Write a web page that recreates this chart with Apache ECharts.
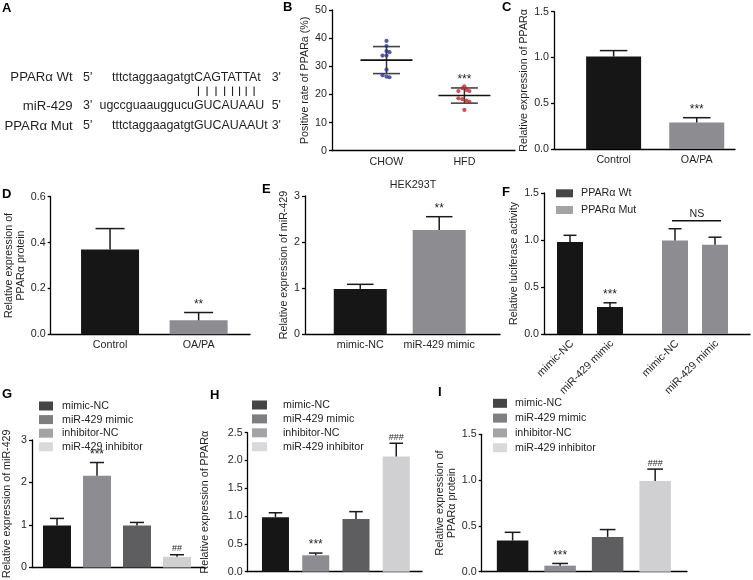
<!DOCTYPE html>
<html><head><meta charset="utf-8">
<script src="https://cdn.jsdelivr.net/npm/echarts@6/dist/echarts.min.js"></script>
<style>html,body{margin:0;padding:0;background:#fff}#c{width:753px;height:580px}</style>
</head><body><div id="c"></div>
<script>
// ================= DATA =================
// Panel A: sequence alignment
const aRowLabels = ['PPARα Wt', 'miR-429', 'PPARα Mut'];
const aRowStarts = ["5'", "3'", "5'"];
const aRowLower  = ['tttctaggaagatgt', 'ugccguaauggucu', 'tttctaggaagatgt'];
const aRowUpper  = ['CAGTATTAt', 'GUCAUAAU', 'GUCAUAAUt'];
const aRowEnds   = ["3'", "5'", "3'"];
const aPairedBases = 8;

// Panel B: scatter (mean ± SD)
const bCategories = ['CHOW', 'HFD'];
const bChow = [39.0, 37.2, 35.4, 35.0, 33.8, 33.8, 28.8, 26.8, 26.3, 26.1];
const bHfd  = [22.9, 22.2, 21.6, 21.2, 21.2, 18.6, 18.3, 17.8, 17.4, 14.5];
const bMean = [32.2, 19.6];
const bSD   = [4.8, 2.7];
const bSig  = ['', '***'];
const bTicks = [0, 10, 20, 30, 40, 50];

// Panel C
const cCategories = ['Control', 'OA/PA'];
const cValues = [1.01, 0.29];
const cErrors = [0.065, 0.052];
const cSig = ['', '***'];
const cTicks = [0, 0.5, 1.0, 1.5];

// Panel D
const dCategories = ['Control', 'OA/PA'];
const dValues = [0.37, 0.061];
const dErrors = [0.091, 0.034];
const dSig = ['', '**'];
const dTicks = [0, 0.2, 0.4, 0.6];

// Panel E
const eCategories = ['mimic-NC', 'miR-429 mimic'];
const eValues = [0.98, 2.26];
const eErrors = [0.10, 0.29];
const eSig = ['', '**'];
const eTicks = [0, 1, 2, 3];
const eTitle = 'HEK293T';

// Panel F
const fGroups = ['PPARα Wt', 'PPARα Mut'];
const fCategories = ['mimic-NC', 'miR-429 mimic'];
const fWt = [0.98, 0.287];
const fWtErr = [0.07, 0.045];
const fMut = [0.995, 0.95];
const fMutErr = [0.125, 0.08];
const fWtSig = ['', '***'];
const fMutSig = ['', ''];
const fNS = 'NS';
const fNSLevel = 1.205;
const fTicks = [0, 0.5, 1.0, 1.5];

// Panels G, H, I
const ghiNames = ['mimic-NC', 'miR-429 mimic', 'inhibitor-NC', 'miR-429 inhibitor'];
const gValues = [0.99, 2.16, 0.99, 0.25];
const gErrors = [0.165, 0.31, 0.07, 0.05];
const gSig = ['', '***', '', '##'];
const gTicks = [0, 1, 2, 3];
const hValues = [0.98, 0.295, 0.95, 2.07];
const hErrors = [0.08, 0.04, 0.13, 0.24];
const hSig = ['', '***', '', '###'];
const hTicks = [0, 0.5, 1.0, 1.5, 2.0, 2.5];
const iValues = [0.34, 0.066, 0.38, 0.99];
const iErrors = [0.09, 0.024, 0.08, 0.13];
const iSig = ['', '***', '', '###'];
const iTicks = [0, 0.5, 1.0, 1.5];

// ================= STYLE / LAYOUT =================
const FONT = "'Liberation Sans', Arial, Helvetica, sans-serif";
const INK = '#231f20';
const FS = 10.7;
const BLACK = '#161616', GRAY = '#8d8d91', DARK = '#5e5e61', LIGHT = '#d0d0d2';
const ghiLegendColors = [BLACK, DARK, GRAY, LIGHT];
const ghiBarColors = [BLACK, GRAY, DARK, LIGHT];
const bJitterChow = [0, 0, 0, 3, -4, 0, 0, -4, 0, 3];
const bJitterHfd = [0, -2, 2, -6, 5, -6, -2, 2, 5, 0];
const fGroupStep = 2.625;

const grids = [], xAxes = [], yAxes = [], series = [];

function addAxes(L) {
  const k = grids.length;
  grids.push({left: L.left, top: L.top, width: L.width, height: L.height});
  xAxes.push({type: 'value', gridIndex: k, min: L.xmin, max: L.xmax,
    axisLine: {show: true, onZero: false, lineStyle: {color: '#000', width: 1.3}},
    axisTick: {show: false}, axisLabel: {show: false}, splitLine: {show: false}});
  const t = L.ticks;
  yAxes.push({type: 'value', gridIndex: k, min: t[0], max: t[t.length - 1], interval: t[1] - t[0],
    name: L.yName, nameLocation: 'middle', nameGap: L.nameGap, nameRotate: 90,
    nameTextStyle: {fontFamily: FONT, fontSize: FS, color: INK, lineHeight: 12},
    axisLine: {show: true, onZero: false, lineStyle: {color: '#000', width: 1.3}},
    axisTick: {show: true, length: 3, lineStyle: {color: '#000', width: 1.3}},
    axisLabel: {margin: 5, fontFamily: FONT, fontSize: FS, color: INK,
      formatter: v => v.toFixed(L.dec)},
    splitLine: {show: false}});
  return k;
}

function errRenderer(sigs, capW, sigSize) {
  return function (params, api) {
    const x = api.value(0), v = api.value(1), t = api.value(2);
    const p0 = api.coord([x, v]), p1 = api.coord([x, t]);
    const st = {stroke: '#1a1a1a', lineWidth: 1.5};
    const ch = [
      {type: 'line', shape: {x1: p0[0], y1: p0[1], x2: p1[0], y2: p1[1]}, style: st},
      {type: 'line', shape: {x1: p1[0] - capW / 2, y1: p1[1], x2: p1[0] + capW / 2, y2: p1[1]}, style: st}
    ];
    const s = sigs[params.dataIndex];
    if (s) {
      const isHash = s.indexOf('#') >= 0;
      ch.push({type: 'text', x: p1[0], y: p1[1] - (isHash ? 1.5 : 2),
        style: {text: s, align: 'center', verticalAlign: 'bottom',
          fontFamily: FONT, fontSize: isHash ? 9 : sigSize, fill: INK}});
    }
    return {type: 'group', children: ch};
  };
}

function labelSeries(k, pos, cats, rotate) {
  series.push({type: 'custom', xAxisIndex: k, yAxisIndex: k, silent: true, z: 5,
    encode: {x: 0, y: 1}, data: pos.map(p => [p, 0]),
    renderItem: function (params, api) {
      const p = api.coord([api.value(0), 0]);
      const txt = cats[params.dataIndex];
      if (rotate) {
        return {type: 'text', x: p[0] + 2, y: p[1] + 8, rotation: Math.PI / 4,
          style: {text: txt, align: 'right', verticalAlign: 'middle', fontFamily: FONT, fontSize: FS, fill: INK}};
      }
      return {type: 'text', x: p[0], y: p[1] + 5.5,
        style: {text: txt, align: 'center', verticalAlign: 'top', fontFamily: FONT, fontSize: FS, fill: INK}};
    }});
}

function barPanel(L, cats, values, errors, sigs, colors, labels, rotate) {
  const k = addAxes(L);
  const pos = L.positions || values.map((_, i) => i);
  series.push({type: 'bar', xAxisIndex: k, yAxisIndex: k, barWidth: L.barWidth, silent: true,
    data: values.map((v, i) => ({value: [pos[i], v], itemStyle: {color: colors[i]}}))});
  series.push({type: 'custom', xAxisIndex: k, yAxisIndex: k, silent: true, z: 4,
    encode: {x: 0, y: 1}, data: values.map((v, i) => [pos[i], v, v + errors[i]]),
    renderItem: errRenderer(sigs, L.barWidth / 2, 12)});
  if (labels) labelSeries(k, pos, labels, rotate);
  return k;
}

// ---- Panel B ----
(function () {
  const L = {left: 332, top: 10, width: 183, height: 140.7, xmin: -0.70, xmax: 1.65,
    ticks: bTicks, dec: 0, yName: 'Positive rate of PPARa (%)', nameGap: 18};
  const k = addAxes(L);
  const pos = bCategories.map((_, i) => i);
  series.push({type: 'custom', xAxisIndex: k, yAxisIndex: k, silent: true, z: 2,
    encode: {x: 0, y: 1}, data: bMean.map((m, i) => [pos[i], m, bSD[i]]),
    renderItem: function (params, api) {
      const x = api.value(0), m = api.value(1), s = api.value(2);
      const pm = api.coord([x, m]), pt = api.coord([x, m + s]), pb = api.coord([x, m - s]);
      const ch = [
        {type: 'line', shape: {x1: pt[0], y1: pt[1], x2: pb[0], y2: pb[1]}, style: {stroke: '#333', lineWidth: 1.5}},
        {type: 'line', shape: {x1: pt[0] - 13.5, y1: pt[1], x2: pt[0] + 13.5, y2: pt[1]}, style: {stroke: '#444', lineWidth: 1.6}},
        {type: 'line', shape: {x1: pb[0] - 13.5, y1: pb[1], x2: pb[0] + 13.5, y2: pb[1]}, style: {stroke: '#444', lineWidth: 1.6}},
        {type: 'line', shape: {x1: pm[0] - 26, y1: pm[1], x2: pm[0] + 26, y2: pm[1]}, style: {stroke: '#111', lineWidth: 1.6}}
      ];
      const sg = bSig[params.dataIndex];
      if (sg) ch.push({type: 'text', x: pt[0], y: pt[1] - 2,
        style: {text: sg, align: 'center', verticalAlign: 'bottom', fontFamily: FONT, fontSize: 12, fill: INK}});
      return {type: 'group', children: ch};
    }});
  series.push({type: 'scatter', xAxisIndex: k, yAxisIndex: k, silent: true, z: 3,
    symbol: 'circle', symbolSize: 4.2, itemStyle: {color: '#2e3192'},
    data: bChow.map((v, i) => ({value: [pos[0], v], symbolOffset: [bJitterChow[i], 0]}))});
  series.push({type: 'scatter', xAxisIndex: k, yAxisIndex: k, silent: true, z: 3,
    symbol: 'circle', symbolSize: 4.2, itemStyle: {color: '#c1272d'},
    data: bHfd.map((v, i) => ({value: [pos[1], v], symbolOffset: [bJitterHfd[i], 0]}))});
  labelSeries(k, pos, bCategories, false);
})();

// ---- Panel C ----
barPanel({left: 554, top: 11.7, width: 181, height: 137.3, xmin: -0.717, xmax: 1.46,
  ticks: cTicks, dec: 1, yName: 'Relative expression of PPARα', nameGap: 14.7, barWidth: 55},
  cCategories, cValues, cErrors, cSig, [BLACK, GRAY], cCategories, false);

// ---- Panel D ----
barPanel({left: 50.7, top: 196.7, width: 199.3, height: 137.6, xmin: -0.67, xmax: 1.58,
  ticks: dTicks, dec: 1, yName: 'Relative expression of\nPPARα protein', nameGap: 23, barWidth: 58},
  dCategories, dValues, dErrors, dSig, [BLACK, GRAY], dCategories, false);

// ---- Panel E ----
barPanel({left: 305, top: 196, width: 195, height: 138, xmin: -0.70, xmax: 1.77,
  ticks: eTicks, dec: 0, yName: 'Relative expression of miR-429', nameGap: 12.3, barWidth: 53},
  eCategories, eValues, eErrors, eSig, [BLACK, GRAY], eCategories, false);

// ---- Panel F ----
(function () {
  const pos = [], vals = [], errs = [], sigs = [], cols = [], labs = [];
  const gv = [fWt, fMut], ge = [fWtErr, fMutErr], gs = [fWtSig, fMutSig], gc = [BLACK, GRAY];
  fGroups.forEach((g, gi) => fCategories.forEach((c, ci) => {
    pos.push(gi * fGroupStep + ci); vals.push(gv[gi][ci]); errs.push(ge[gi][ci]);
    sigs.push(gs[gi][ci]); cols.push(gc[gi]); labs.push(c);
  }));
  const k = barPanel({left: 544, top: 193, width: 206, height: 141, xmin: -0.65, xmax: 4.5,
    ticks: fTicks, dec: 1, yName: 'Relative luciferase activity', nameGap: 23, barWidth: 26, positions: pos},
    labs, vals, errs, sigs, cols, labs, true);
  series.push({type: 'custom', xAxisIndex: k, yAxisIndex: k, silent: true, encode: {x: 0, y: 2},
    data: [[pos[2], pos[3], fNSLevel]],
    renderItem: function (params, api) {
      const a = api.coord([api.value(0), api.value(2)]), b = api.coord([api.value(1), api.value(2)]);
      return {type: 'group', children: [
        {type: 'line', shape: {x1: a[0] - 3, y1: a[1], x2: b[0] + 6, y2: b[1]}, style: {stroke: '#111', lineWidth: 1.4}},
        {type: 'text', x: (a[0] + b[0]) / 2 + 2, y: a[1] - 1.5,
          style: {text: fNS, align: 'center', verticalAlign: 'bottom', fontFamily: FONT, fontSize: FS, fill: INK}}
      ]};
    }});
  fGroups.forEach((g, gi) => series.push({type: 'scatter', name: g, data: [], itemStyle: {color: gc[gi]}}));
})();

// ---- Panels G, H, I ----
barPanel({left: 32, top: 440, width: 173, height: 131.7, xmin: -0.625, xmax: 3.7,
  ticks: gTicks, dec: 0, yName: 'Relative expression of miR-429', nameGap: 19, barWidth: 28},
  ghiNames, gValues, gErrors, gSig, ghiBarColors, null, false);
barPanel({left: 247.7, top: 432.7, width: 174.3, height: 139, xmin: -0.69, xmax: 3.64,
  ticks: hTicks, dec: 1, yName: 'Relative expression of PPARα', nameGap: 36.7, barWidth: 27},
  ghiNames, hValues, hErrors, hSig, ghiBarColors, null, false);
barPanel({left: 481.7, top: 434.3, width: 205.3, height: 137.4, xmin: -0.65, xmax: 3.67,
  ticks: iTicks, dec: 1, yName: 'Relative expression of\nPPARα protein', nameGap: 24, barWidth: 31.5},
  ghiNames, iValues, iErrors, iSig, ghiBarColors, null, false);
ghiNames.forEach((n, i) => series.push({type: 'scatter', name: n, data: [], itemStyle: {color: ghiLegendColors[i]}}));

function legendAt(names, left, top, iw, ih, gap, tpad) {
  return {data: names, left: left, top: top, orient: 'vertical', icon: 'rect', padding: 0,
    itemWidth: iw, itemHeight: ih, itemGap: gap, selectedMode: false,
    textStyle: {fontFamily: FONT, fontSize: FS, color: INK, lineHeight: 12, padding: [0, 0, 0, tpad]}};
}

// ---- graphics: panel A text, panel letters, titles ----
const graphics = [];
const aRowY = [77.7, 106, 126];
const A_LABEL_FS = 13.2, A_SEQ_FS = 12.4;
const aSeqStart = 112;
const measure = (function () {
  const ctx = document.createElement('canvas').getContext('2d');
  return function (txt, fs) { ctx.font = fs + 'px ' + FONT; return ctx.measureText(txt).width; };
})();
const aSplitX = aSeqStart + measure(aRowLower[0], A_SEQ_FS);
let aEndX = 0;
aRowUpper.forEach(u => { aEndX = Math.max(aEndX, aSplitX + measure(u, A_SEQ_FS)); });
aEndX += 4;
aRowY.forEach((y, r) => {
  const lab = {fontFamily: FONT, fontSize: A_LABEL_FS, fill: INK, verticalAlign: 'middle'};
  const seq = {fontFamily: FONT, fontSize: A_SEQ_FS, fill: INK, verticalAlign: 'middle'};
  graphics.push({type: 'text', x: 72.7, y: y, style: Object.assign({text: aRowLabels[r], align: 'right'}, lab)});
  graphics.push({type: 'text', x: 83, y: y, style: Object.assign({text: aRowStarts[r], align: 'left'}, seq)});
  graphics.push({type: 'text', x: aSplitX, y: y, style: Object.assign({text: aRowLower[r], align: 'right'}, seq)});
  graphics.push({type: 'text', x: aSplitX, y: y, style: Object.assign({text: aRowUpper[r], align: 'left'}, seq)});
  graphics.push({type: 'text', x: aEndX, y: y, style: Object.assign({text: aRowEnds[r], align: 'left'}, seq)});
});
// pairing bars under each paired upper-case base of row 1
for (let i = 0; i < aPairedBases; i++) {
  const x = aSplitX + measure(aRowUpper[0].slice(0, i), A_SEQ_FS) + measure(aRowUpper[0][i], A_SEQ_FS) / 2;
  graphics.push({type: 'line', shape: {x1: x, y1: 86.5, x2: x, y2: 96}, style: {stroke: INK, lineWidth: 1.1}});
}
const letters = [['A', 2, 1.5], ['B', 283, 1], ['C', 502, 1], ['D', 2, 188], ['E', 262, 182.5],
  ['F', 502, 186], ['G', 2, 387.5], ['H', 210, 389], ['I', 438, 386]];
letters.forEach(l => graphics.push({type: 'text', x: l[1], y: l[2],
  style: {text: l[0], fontFamily: FONT, fontSize: 13, fontWeight: 'bold', fill: '#000', verticalAlign: 'top'}}));
graphics.push({type: 'text', x: 413, y: 185, style: {text: eTitle, fontFamily: FONT, fontSize: FS, fill: INK,
  align: 'center', verticalAlign: 'middle'}});

const chart = echarts.init(document.getElementById('c'), null, {renderer: 'canvas'});
chart.setOption({
  animation: false,
  backgroundColor: '#fff',
  grid: grids, xAxis: xAxes, yAxis: yAxes, series: series,
  legend: [
    legendAt(fGroups, 556, 187.3, 17, 8, 4.7, 3),
    legendAt(ghiNames, 39, 400, 14, 9, 1.6, 4),
    legendAt(ghiNames, 252, 399, 15, 9, 1.9, 11),
    legendAt(ghiNames, 493, 397.3, 14, 9, 2.8, 3)
  ],
  graphic: graphics
});
</script>
</body></html>
